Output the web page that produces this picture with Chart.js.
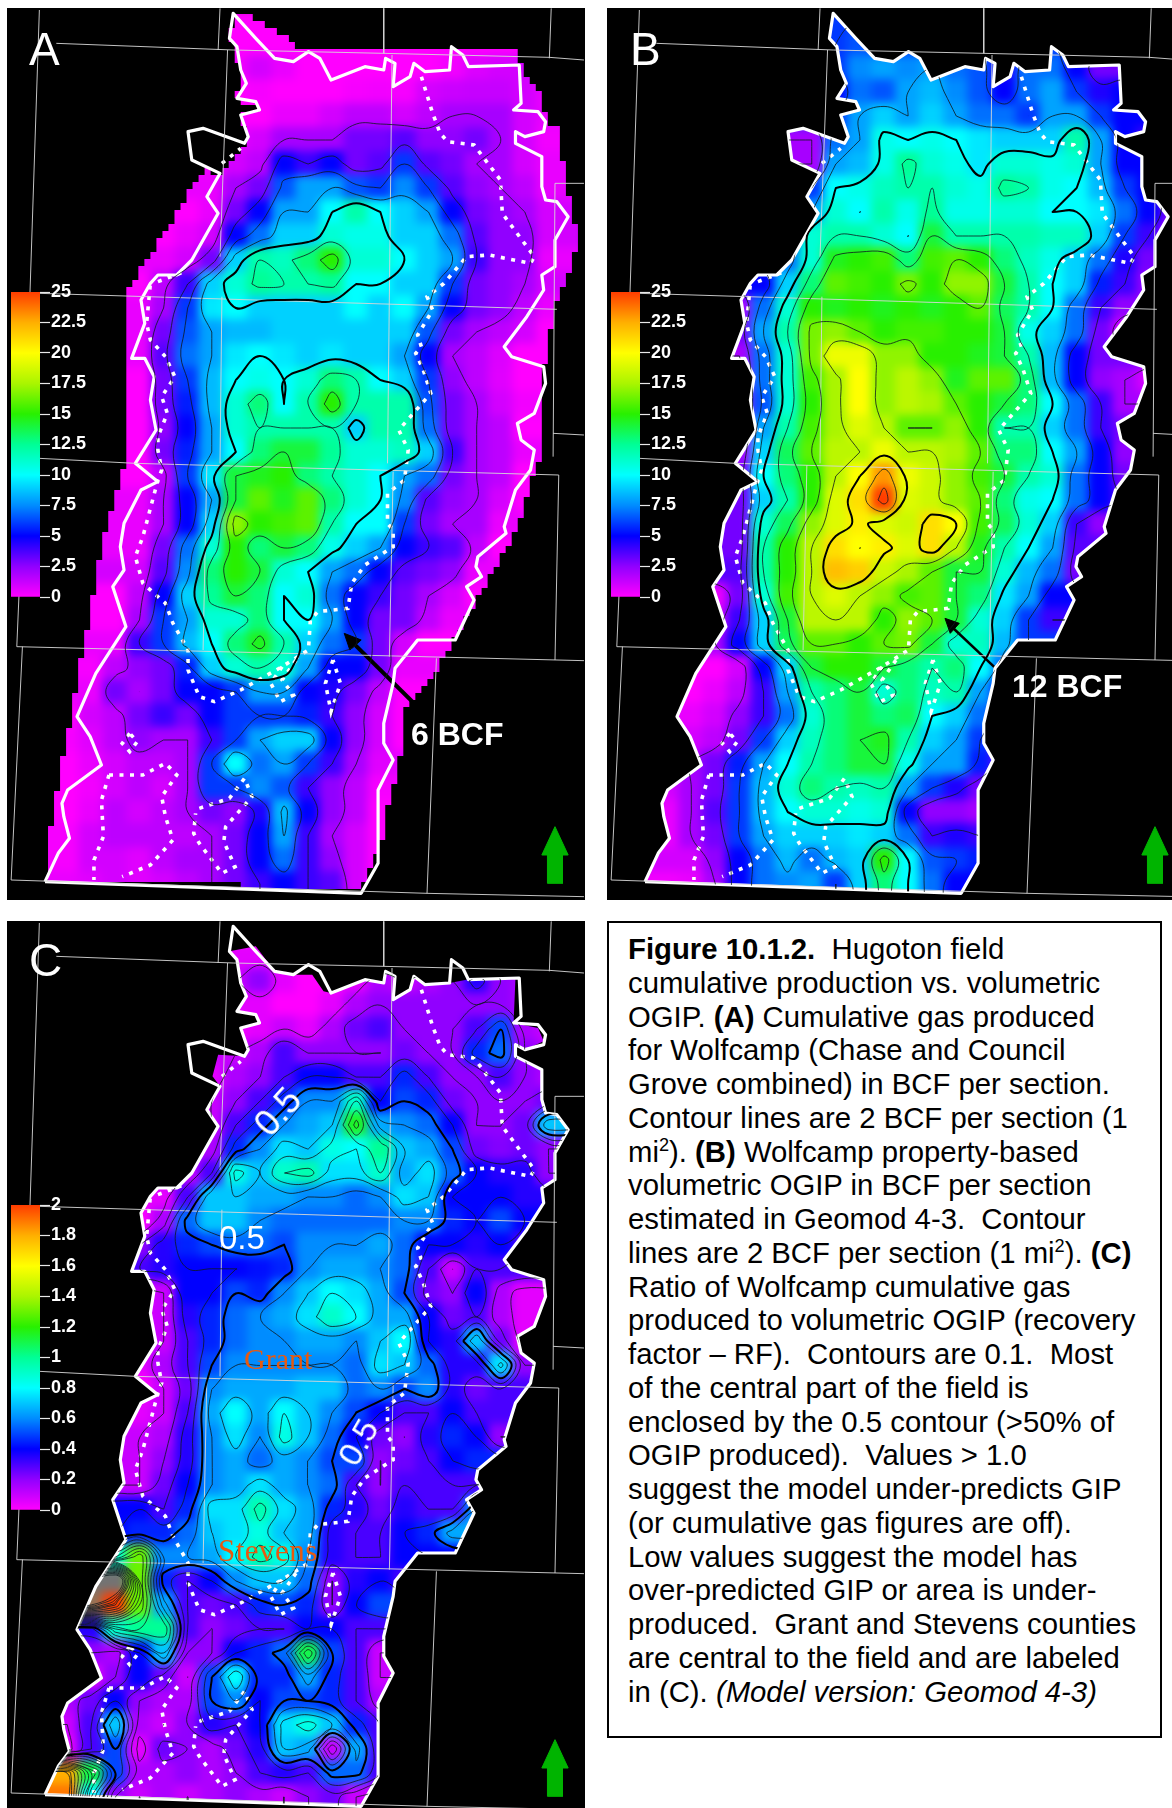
<!DOCTYPE html>
<html><head><meta charset="utf-8">
<script src="https://cdn.jsdelivr.net/npm/chart.js@4"></script>
<style>
html,body{margin:0;padding:0;background:#fff;width:1172px;height:1808px;overflow:hidden;font-family:"Liberation Sans",Arial,sans-serif}
.panel{position:absolute;background:#000;overflow:hidden}
.panel canvas{position:absolute}
.heat{filter:blur(5px)}
.t{position:absolute;white-space:pre;color:#fff;line-height:1}
.cap{position:absolute;left:607px;top:921px;width:551px;height:813px;border:2px solid #000;background:#fff}
.capt{position:absolute;left:628px;top:932px;font-size:29.3px;line-height:33.75px;white-space:pre;color:#000}
sup{font-size:.62em;line-height:0;vertical-align:super}
</style></head><body>
<div class="panel" id="pA" style="left:7px;top:8px;width:578px;height:892px"></div>
<div class="panel" id="pB" style="left:607px;top:8px;width:565px;height:892px"></div>
<div class="panel" id="pC" style="left:7px;top:921px;width:578px;height:887px"></div>
<div class="cap"></div>
<div class="capt"><b>Figure 10.1.2.</b>  Hugoton field
cumulative production vs. volumetric
OGIP. <b>(A)</b> Cumulative gas produced
for Wolfcamp (Chase and Council
Grove combined) in BCF per section.
Contour lines are 2 BCF per section (1
mi<sup>2</sup>). <b>(B)</b> Wolfcamp property-based
volumetric OGIP in BCF per section
estimated in Geomod 4-3.  Contour
lines are 2 BCF per section (1 mi<sup>2</sup>). <b>(C)</b>
Ratio of Wolfcamp cumulative gas
produced to volumetric OGIP (recovery
factor – RF).  Contours are 0.1.  Most
of the central part of the field is
enclosed by the 0.5 contour (&gt;50% of
OGIP produced).  Values &gt; 1.0
suggest the model under-predicts GIP
(or cumulative gas figures are off).
Low values suggest the model has
over-predicted GIP or area is under-
produced.  Grant and Stevens counties
are central to the field and are labeled
in (C). <i>(Model version: Geomod 4-3)</i></div>
<div class="t" style="left:29px;top:26px;font-size:46px;line-height:46px">A</div>
<div class="t" style="left:630px;top:26px;font-size:46px;line-height:46px">B</div>
<div class="t" style="left:29px;top:937px;font-size:46px;line-height:46px">C</div>
<div class="t" style="left:411px;top:718px;font-size:32px;font-weight:bold">6 BCF</div>
<div class="t" style="left:1012px;top:670px;font-size:32px;font-weight:bold">12 BCF</div>
<div class="t" style="left:253px;top:1094px;font-size:36px;transform:rotate(-48deg)">0.5</div>
<div class="t" style="left:219px;top:1221px;font-size:33px">0.5</div>
<div class="t" style="left:334px;top:1425px;font-size:34px;transform:rotate(-60deg)">0.5</div>
<div class="t" style="left:244px;top:1344px;font-size:30px;color:#e8590f;font-family:'Liberation Serif',serif">Grant</div>
<div class="t" style="left:218px;top:1535px;font-size:31px;letter-spacing:.5px;color:#e8590f;font-family:'Liberation Serif',serif">Stevens</div>
<script>
const o = null;
/* value grids: one row per 72 map units in y, one column per 64 map units in x */
const gridA = [
[o,o,o,o,o,o,o,o,o,0,0,0,0,0,0,0,0,0,0,0,0,0],
[o,o,o,o,o,o,o,o,o,0,0,0,0,0,0,0,0,0,0,0,0,0],
[o,o,o,o,o,o,o,o,o,.3,1,.5,0,0,0,0,0,0,.3,.8,1,1,1,.5],
[o,o,o,o,o,o,o,o,o,0,.2,0,0,0,.2,.3,.2,1,1.2,1.3,1.3,1,.5],
[o,o,o,o,o,o,o,o,o,0,0,.5,.5,1,1.5,1.5,1,1.5,2,2,2,1,.5],
[o,o,o,o,o,o,o,o,o,.5,1,2,2,2,3,3,3.5,2.5,2.5,3,2,1,.3],
[o,o,o,o,o,o,o,o,.3,1,1.5,5,4,5,3,3.5,6,3.5,3,2,2,1,.5],
[o,o,o,o,o,o,o,o,.5,2,3,6.5,8,8,6.5,6,7.5,6,3.5,2.5,2,1.5,.5],
[o,o,o,o,o,o,o,0,.5,3,5,8,8,10,12,10,9,8,5,3,2.5,2,1],
[o,o,o,o,o,o,0,.5,1,5,7,9,9,11,10.5,10.5,9,9,7,3.5,2.5,2.5,1],
[o,o,o,o,o,o,.5,1,3,9,12,11.5,13,15,11,11,10,9,8,4,2.5,2.5,.5],
[o,o,o,o,o,0,1.5,4,9,11,12.5,12,12,12.5,10,10,9,9,6,3,2.5,2,1],
[o,o,o,o,o,.5,2,6,9.5,10,9,9,9,9,10,9,10,8,5,3,2.5,1.5,.5],
[o,o,o,o,o,.5,3,6.5,8,8.5,8.5,9,9,9,9,9,9,6.5,3,2,1.5,1,0],
[o,o,o,o,o,.5,3.5,7,8,9.5,10,9.5,9,9.5,9,9,8,5,2,1.5,.8,0],
[o,o,o,o,o,0,3,6,8.5,10,10.5,10,11,13,12,10,9,6,2.5,1.5,.7,0],
[o,o,o,o,o,0,3,5.5,8.5,11,13,10,12,15,12,12,12,6.5,3,2,1,.3],
[o,o,o,o,o,0,2.5,5,8,11,12,12,12,12,9,12,12,7,3,2,1.5,0],
[o,o,o,o,o,0,3,5.5,8,10,13,14,14,12.5,11,11,11.5,9,4,2,1.5,.5],
[o,o,o,o,o,0,1.5,6,9.5,14,14.5,15,13,12,11,10,8,7,3,2,1.5,0],
[o,o,o,o,o,.5,2,5,8,14,16,14.5,16,13,11,10,7.5,3.5,2.5,2,1,0],
[o,o,o,o,o,.5,2,5,9,17,15,15.5,16,12,10,10,6,3,2,2,.5],
[o,o,o,o,o,.5,3,7,11,15,13,14,13,10.5,9,8,5,4,3.5,1.5,0],
[o,o,o,o,o,1,3.5,7.5,13,15,14,11,10,8,7,5,3.5,3,2.5,.5],
[o,o,o,o,0,1.5,5,9,12.5,14,13,10,11,7,5,4,3,2,1,0],
[o,o,o,o,0,2,6,8,11,11,13,10,10,8,5,3,3,1.5,.5],
[o,o,o,o,.5,4,6,8.5,10,13,14.5,12,9,7,6,3,1,0],
[o,o,o,.2,1.5,2.5,3,5.5,9,11,12,11,8,5,5,3,.5],
[o,o,o,.5,3,2,3,5,5,6,8,8,5,4.5,3,1.5,0],
[o,o,0,1,1.5,3,4,3,5,6,6,6,5.5,4,2.5,1,0],
[o,o,.2,.7,1.5,2.5,2,2,4,6,8,9,9,5,2.5,1,0],
[o,o,0,.5,1,1.5,1.5,2,6,10,7,8,6,4,2,.7],
[o,o,0,.3,1,1.5,1,2,6,6,7.5,6.5,4,2.5,1.5,.2],
[o,o,0,.5,1.5,1,1.5,2,3,2.5,4.5,8.5,5,2.5,1.5,0],
[o,o,.2,1,1.5,1.5,1.5,1.5,2,3,5,8,4,2,1,0],
[o,o,.2,1,1,.7,1.5,2,2,3,5,7,4,2.5,1,0],
[o,o,.5,.7,1,.7,1,1.5,2,3,4,5,4,3.5,1,0],
[]];
const gridB = [
[o,o,o,o,o,o,o,o,o,6],
[o,o,o,o,o,o,o,o,o,6,6.5,6],
[o,o,o,o,o,o,o,o,o,6,7.5,8,7.5,8,7,6.5,4.5,7,7,5,3,3,3],
[o,o,o,o,o,o,o,o,o,5,7,6.5,8,8.5,7.5,6.5,5,7,8,6,4.5,5,4],
[o,o,o,o,o,o,o,o,o,6,8,9,8,9,8,7,7,6,8,8,6,5,5],
[o,o,o,o,o,o,o,o,2,7,8,10.5,10,10.5,10,9.5,9,9,9,12,8,5,4],
[o,o,o,o,o,o,o,o,2,8,8.5,10.5,12.5,11,10.5,9.5,11,11,10.5,11,8,5,5,3],
[o,o,o,o,o,o,o,o,6,10,10.5,11.5,12,12,11,10.5,12.5,12,10.5,10,8.5,6,5,2.5],
[o,o,o,o,o,o,o,o,8,11,10,12,10.5,12.5,10.5,10.5,11,11,10,10,9.5,7,5,3],
[o,o,o,o,o,o,o,6,11,12,12,11,10,14,12,12,12,12,11.5,11.5,9,6,4,1.5],
[o,o,o,o,o,o,o,7,11,14.5,15,15.5,13,15.5,16,15,13,11.5,10.5,9,7,4.5,3],
[o,o,o,o,o,o,5,9,13,16,15.5,15,16.5,15,17,17,14,12,10,9,5.5,4,2.5],
[o,o,o,o,o,2,7,11,15,14.5,15,14.5,15,14.5,15,16,13.5,12,10,7,4,2.5],
[o,o,o,o,o,3,8,12,16.5,17,16,15,15.5,15.5,15,15,14,10.5,9,7,3,1],
[o,o,o,o,o,2,7,11,16.5,19.5,19.5,17,17,15,15,14.5,14,12,8.5,5,3],
[o,o,o,o,o,1,7,11,15.5,17.5,20,17,18,17,14.5,16,16,13,8.5,5,2.5,2,1],
[o,o,o,o,o,1,6.5,11,15,17.5,20,17,18,17.5,16,15,14,13,10,7,4,2],
[o,o,o,o,o,1,8,12,15.5,17.5,19,18,16,16,17,15,12,12,9,7,4,3],
[o,o,o,o,o,2,9,13.5,16,18,18,19.5,18,18,17.5,16,13,13,10,8,5,2.5],
[o,o,o,o,o,3,10,13,15,18,20,23,19.5,18.5,17,15.5,14,12,11,7,5,3],
[o,o,o,o,o,3,9,12,15,19,21,25,19,18.5,17,16,13,10.5,10,7,5,3.5],
[o,o,o,o,o,3,11,13.5,17,19,20.5,19,18.5,21,20,15.5,13.5,11,9,4,2.5],
[o,o,o,o,o,3,12,15,18,21,20,20.5,19,21,18,14.5,12,10,8,3.5],
[o,o,o,o,o,3.5,12,15,18,22,21.5,18.5,17.5,16,14,14,11,8.5,7,3],
[o,o,o,o,.5,3,11,15.5,18,19,18,17,15.5,16,14,13,9.5,8,5],
[o,o,o,o,1,4,9,14,18,18,18,15,17,16,14,11,9,6,4],
[o,o,o,o,2,5,9,13.5,16,16,15,16,16.5,14,11,11.5,8.5,6],
[o,o,o,0,0,1,5,9,14,15,15,14,13,12,13,10,7],
[o,o,o,0,.5,1.5,4,8,12,13,14,11,13,11.5,12,8,5],
[o,o,o,.5,1,2.5,4,7,11,13,14,13,13.5,10,9,7,5],
[o,o,o,1,1.5,3,6,9,11.5,13,14,14.5,12,9,8,6,4],
[o,o,o,2,3,5.5,8,10,12,13,14,14,10.5,8,8,5.5,3],
[o,o,1,2,3,6,8.5,11,13,12,11.5,12,8,6,4.5,3],
[o,o,.5,2,3.5,6,8.5,10,11,11,10.5,11,5,2.5,2.5,2],
[o,o,.5,2,3,6,8,9,9,9,9.5,9,7,4,4.5,4],
[o,o,o,1,2.5,5,7,8.5,7,8.5,9,15,10,6.5,6,5.5],
[o,o,.3,.5,2,5,7,7.5,8,6,9,13,10,7,5,5],
[]];
const gridC = [
[o,o,o,o,o,o,o,o,o,0,0,0,0,0],
[o,o,o,o,o,o,o,o,o,.05,.05,0,0,0,0,0,0,0],
[o,o,o,o,o,o,o,o,o,.1,.2,.05,0,0,.05,.15,.1,.15,.2,.35,.2,.15],
[o,o,o,o,o,o,o,o,o,.05,.05,0,0,.05,.15,.2,.2,.2,.2,.2,.2,.15],
[o,o,o,o,o,o,o,o,o,.02,.05,.1,.05,.15,.25,.3,.2,.2,.2,.3,.5,.15,.1],
[o,o,o,o,o,o,o,o,o,.1,.15,.3,.2,.2,.2,.2,.25,.2,.2,.45,.55,.2,.15],
[o,o,o,o,o,o,o,o,.05,.15,.2,.3,.4,.4,.3,.3,.45,.3,.2,.2,.3,.2,.15],
[o,o,o,o,o,o,o,o,.1,.2,.3,.45,.6,.6,.9,.4,.5,.45,.25,.2,.2,.2,.25],
[o,o,o,o,o,o,o,o,.1,.3,.45,.6,.65,.7,1.15,.65,.6,.55,.4,.2,.2,.25,.7],
[o,o,o,o,o,o,o,.05,.15,.45,.6,.75,.7,.85,.8,1,.7,.65,.5,.25,.22,.25,.2],
[o,o,o,o,o,o,o,.1,.3,.85,.7,.9,.95,.75,.75,.9,.65,.75,.55,.4,.35,.35,.2],
[o,o,o,o,o,o,.05,.3,.7,.7,.65,.65,.6,.6,.55,.6,.75,.7,.4,.4,.4,.35],
[o,o,o,o,o,0,.15,.55,.7,.7,.6,.55,.55,.55,.55,.55,.6,.6,.45,.4,.5,.4],
[o,o,o,o,o,.2,.35,.45,.5,.55,.55,.5,.6,.6,.6,.65,.55,.4,.4,.35,.4,.3],
[o,o,o,o,o,.3,.35,.4,.4,.4,.42,.45,.6,.65,.65,.6,.55,.3,.1,.3,.3],
[o,o,o,o,o,.05,.1,.4,.4,.5,.45,.6,.7,.8,.75,.65,.5,.25,.2,.4,.15,.05],
[o,o,o,o,o,.05,.1,.35,.45,.55,.6,.65,.75,.9,.8,.65,.65,.4,.25,.3,.15,.05],
[o,o,o,o,o,.05,.1,.3,.45,.55,.6,.6,.65,.65,.6,.7,.8,.4,.35,.7,.25,.05],
[o,o,o,o,o,.05,.15,.3,.5,.6,.6,.6,.6,.6,.55,.75,.7,.55,.35,.35,.75,.2],
[o,o,o,o,o,0,.1,.25,.6,.65,.65,.65,.7,.7,.55,.6,.5,.6,.35,.25,.3],
[o,o,o,o,o,.05,.1,.3,.65,.8,.65,.8,.7,.6,.5,.4,.3,.3,.4,.3],
[o,o,o,o,o,.1,.15,.35,.6,.75,.6,.85,.7,.55,.4,.25,.2,.35,.45,.4,.2],
[o,o,o,o,o,.1,.2,.35,.6,.65,.55,.65,.6,.5,.5,.2,.25,.3,.4,.45],
[o,o,o,o,o,.1,.25,.4,.6,.65,.75,.65,.6,.55,.3,.2,.3,.3,.3,.3],
[o,o,o,o,o,.4,.3,.45,.75,.75,.95,.75,.65,.45,.35,.25,.35,.3,.3,.6],
[o,o,o,o,.4,.45,.45,.55,.7,.75,.85,.7,.65,.35,.3,.3,.4,.45,.65],
[o,o,o,o,.9,1.3,.6,.6,.65,.8,.95,.85,.6,.35,.3,.3,.4],
[o,o,o,2.6,2.9,1.3,.45,.3,.4,.6,.7,.7,.55,.2,.35,.4,.3],
[o,o,o,2.4,2,1.3,.65,.3,.25,.3,.45,.5,.45,.2,.4,.5],
[o,o,o,.35,.9,1,1,.3,.2,.25,.3,.3,.4,.4,.3,.3],
[o,o,o,.2,.15,.4,.7,.2,.2,.4,.45,.55,1.1,.5,.3,.1],
[o,o,o,.05,.2,.4,.25,.1,.5,.8,.45,.45,.65,.45,.3,.1],
[o,o,.15,.25,.4,.2,.15,.15,.5,.6,.4,.5,.5,.45,.3,.15],
[o,o,.1,.3,.7,.15,.1,.2,.35,.3,.4,.75,.85,.7,.45,.3],
[o,o,.05,.3,.5,.05,.25,.2,.15,.25,.35,.7,.65,.1,.65,.3],
[o,o,1.8,1.1,.5,.15,.15,.2,.15,.2,.3,.35,.3,.55,.55,.3],
[o,o,1.9,.8,.2,.1,.15,.1,.15,.2,.15,.1,.2,.25,.1,.05],
[]];
const barTicksAB = [0,2.5,5,7.5,10,12.5,15,17.5,20,22.5,25];
const barTicksC = [0,.2,.4,.6,.8,1,1.2,1.4,1.6,1.8,2];
const levelsAB = [2,4,6,8,10,12,14,16,18,20,22,24];
const heavyAB = [10,20];
const levelsC = [.1,.2,.3,.4,.5,.6,.7,.8,.9,1,1.1,1.2,1.3,1.4,1.5,1.6,1.7,1.8,1.9,2,2.1,2.2,2.3,2.4];
const heavyC = [.5];
/* map geometry */
const fieldOutline = [[120,2645],[155,2560],[185,2515],[170,2450],[165,2410],[180,2370],[270,2295],[240,2210],[205,2150],[255,2020],[335,1880],[300,1760],[330,1710],[320,1640],[330,1570],[375,1470],[420,1445],[360,1390],[415,1290],[400,1200],[410,1130],[385,1075],[350,1075],[385,970],[375,900],[400,850],[420,825],[470,825],[510,780],[580,640],[550,590],[585,520],[510,480],[500,395],[540,385],[650,430],[660,410],[640,345],[690,330],[680,305],[630,295],[655,250],[640,210],[630,140],[610,115],[620,40],[680,115],[730,175],[780,185],[820,155],[850,175],[880,240],[970,200],[1020,210],[1025,175],[1050,190],[1045,260],[1090,230],[1100,190],[1130,215],[1195,210],[1200,140],[1230,165],[1245,200],[1380,195],[1385,310],[1365,330],[1430,335],[1450,365],[1445,395],[1395,410],[1370,395],[1370,430],[1440,470],[1440,560],[1450,600],[1480,605],[1510,650],[1475,720],[1475,800],[1440,825],[1445,870],[1400,950],[1340,1040],[1360,1070],[1445,1100],[1450,1150],[1420,1240],[1375,1270],[1385,1320],[1420,1350],[1410,1410],[1370,1470],[1340,1580],[1345,1600],[1270,1670],[1265,1700],[1280,1730],[1240,1760],[1260,1800],[1210,1920],[1110,1920],[1050,2005],[1045,2050],[1020,2170],[1020,2230],[1045,2280],[1005,2370],[1005,2590],[960,2680],[120,2645]];
const extentA = [[620,40],[660,50],[720,85],[780,120],[780,155],[1190,150],[1380,150],[1390,225],[1440,290],[1450,360],[1480,390],[1495,490],[1530,680],[1530,760],[1500,860],[1480,900],[1470,960],[1445,1100],[1440,1350],[1400,1500],[1370,1590],[1310,1720],[1250,1840],[1190,1950],[1140,2050],[1080,2130],[1060,2310],[1030,2420],[1015,2530],[960,2670],[120,2635],[125,2560],[160,2310],[200,2080],[270,1640],[340,1350],[340,870],[400,760],[490,600],[540,510],[585,520],[640,440],[660,410],[640,345],[690,330],[630,295],[640,200],[610,115]];
const extentC = [[120,2645],[155,2560],[185,2515],[170,2450],[165,2410],[180,2370],[270,2295],[240,2210],[205,2150],[255,2020],[335,1880],[300,1760],[330,1710],[320,1640],[330,1570],[375,1470],[420,1445],[360,1390],[415,1290],[400,1200],[410,1130],[385,1075],[350,1075],[385,970],[375,900],[400,850],[420,825],[470,825],[510,780],[580,640],[550,590],[585,520],[565,490],[580,425],[650,430],[660,410],[640,345],[690,330],[680,305],[630,295],[655,250],[640,210],[630,140],[610,115],[680,100],[730,175],[780,185],[830,185],[860,235],[880,240],[970,200],[1020,210],[1025,175],[1050,190],[1045,260],[1090,230],[1100,190],[1130,215],[1195,210],[1240,200],[1370,195],[1365,330],[1430,345],[1445,385],[1395,410],[1370,395],[1370,430],[1440,470],[1440,560],[1450,600],[1480,605],[1510,650],[1475,720],[1475,800],[1440,825],[1445,870],[1400,950],[1340,1040],[1360,1070],[1445,1100],[1450,1150],[1420,1240],[1375,1270],[1385,1320],[1420,1350],[1410,1410],[1370,1470],[1340,1580],[1345,1600],[1270,1670],[1265,1700],[1280,1730],[1240,1760],[1260,1800],[1210,1920],[1110,1920],[1050,2005],[1045,2050],[1020,2170],[1020,2230],[1045,2280],[1005,2370],[1005,2590],[960,2680]];
const dottedPaths = [
[[1120,230],[1150,340],[1170,400],[1190,425],[1260,435],[1330,540],[1335,640],[1420,770],[1410,790],[1300,765],[1240,770],[1180,850],[1135,890],[1150,930],[1110,1005],[1120,1040],[1105,1060],[1125,1110],[1145,1180],[1060,1290],[1085,1350],[1075,1440],[1030,1480],[1030,1570],[1045,1590],[1045,1640],[970,1695],[935,1750],[925,1825],[845,1835],[825,1860],[820,1950],[750,2000],[640,2070],[570,2105],[530,2090],[500,2010],[500,1950],[460,1870],[440,1810],[380,1750],[360,1670],[380,1610],[420,1440],[430,1410],[420,1350],[420,1310],[445,1240],[430,1190],[465,1130],[440,1070],[400,1020],[390,970],[400,850]],
[[420,845],[490,815]],
[[590,490],[640,445]],
[[885,1980],[865,2050],[880,2135],[905,2050],[885,1980]],
[[345,2200],[325,2230],[345,2255],[365,2225],[345,2200]],
[[290,2325],[380,2325],[440,2290],[470,2325],[430,2390],[440,2450],[460,2520],[400,2595],[325,2630]],
[[290,2325],[270,2400],[275,2510],[250,2580],[250,2640]],
[[530,2425],[610,2395],[650,2335],[670,2390],[600,2480],[595,2525],[625,2600],[590,2620],[530,2530],[515,2500],[520,2440]],
[[750,2000],[720,2050],[745,2105],[780,2085],[750,2040],[790,1975]]];
const gridPaths = [
[[105,880],[1480,928]],[[150,130],[620,150],[1020,160],[1460,172],[1552,180]],
[[105,30],[80,880]],[[585,25],[580,150]],[[605,150],[585,770]],[[1020,25],[1020,160]],[[1042,165],[1030,1390]],[[1465,25],[1460,175]],
[[1475,550],[1552,550]],[[1475,550],[1470,1370]],[[1470,1300],[1552,1305]],[[590,890],[585,1390]],
[[105,1375],[360,1390],[1485,1425]],[[1485,1425],[1475,1980]],[[550,1395],[540,1950]],[[1045,1415],[1035,1970]],
[[85,880],[45,1940]],[[45,1940],[1552,1982]],[[60,1940],[30,2640],[1135,2680],[1552,2690]],[[1160,1975],[1135,2680]]];
const northArrow = [[1475,2480],[1510,2565],[1495,2565],[1495,2650],[1455,2650],[1455,2565],[1440,2565],[1475,2480]];
const arrowLineA = [[1105,2115],[935,1925]];
const arrowHeadA = [[915,1900],[960,1920],[930,1950],[915,1900]];
const arrowLineB = [[1052,2005],[930,1875]];
const arrowHeadB = [[917,1855],[955,1870],[931,1900],[917,1855]];

const colorStops = [[0,[255,0,255]],[2.5,[145,0,255]],[5,[0,0,255]],[7.5,[0,140,255]],[10,[0,255,255]],[12.5,[0,255,150]],[15,[40,240,0]],[17.5,[170,245,0]],[20,[255,255,0]],[22.5,[255,175,0]],[25,[255,60,0]],[27,[255,110,0]],[31,[115,115,115]]];
function colorAt(v){
  for(let i=1;i<colorStops.length;i++){
    if(v<=colorStops[i][0]){
      const a=colorStops[i-1],b=colorStops[i],t=(v-a[0])/(b[0]-a[0]);
      return 'rgb('+a[1].map((c,k)=>Math.round(c+(b[1][k]-c)*t)).join(',')+')';
    }
  }
  return 'rgb(115,115,115)';
}
const UX=2.657, UY=3, X0=19, Y0=24, DX=64, DY=72, COLS=24, PAD=30;
const colX=i=>X0+DX*(i+.5), rowY=j=>Y0+DY*(j+.5);
/* the coloured patch of panel A has a pixel-stepped edge */
function stepped(poly,sx,sy){
  const out=[];
  const push=(x,y)=>{const l=out[out.length-1];if(!l||l[0]!==x||l[1]!==y)out.push([x,y]);};
  poly.forEach((p,i)=>{
    const q=poly[(i+1)%poly.length],n=Math.ceil(Math.hypot(q[0]-p[0],q[1]-p[1])/6)||1;
    for(let k=0;k<n;k++){
      const X=Math.round((p[0]+(q[0]-p[0])*k/n)/sx)*sx,Y=Math.round((p[1]+(q[1]-p[1])*k/n)/sy)*sy,l=out[out.length-1];
      if(l&&l[0]!==X&&l[1]!==Y)push(X,l[1]);
      push(X,Y);
    }
  });
  return out;
}
function padGrid(g){
  const R=g.length, out=[];
  for(let j=0;j<R;j++){
    const r=[];
    for(let i=0;i<COLS;i++){
      let v=g[j][i];
      if(v==null){ for(let d=1;d<COLS&&v==null;d++){ const a=g[j][i-d],b=g[j][i+d]; v=a!=null?a:(b!=null?b:null);} }
      r.push(v);
    }
    out.push(r);
  }
  for(let j=0;j<R;j++) if(out[j][0]==null){
    for(let d=1;d<R;d++){ const s=out[j-d]&&out[j-d][0]!=null?out[j-d]:(out[j+d]&&out[j+d][0]!=null?out[j+d]:null); if(s){out[j]=s.slice();break;} }
  }
  return out;
}
function contour(g,L){
  const R=g.length,C=COLS,pts={},adj={};
  const add=(a,b)=>{(adj[a]=adj[a]||[]).push(b);(adj[b]=adj[b]||[]).push(a);};
  const hk=(i,j)=>{const k='h'+i+'_'+j; if(!pts[k]){const a=g[j][i],b=g[j][i+1];pts[k]={x:colX(i)+DX*(L-a)/(b-a),y:rowY(j)};} return k;};
  const vk=(i,j)=>{const k='v'+i+'_'+j; if(!pts[k]){const a=g[j][i],b=g[j+1][i];pts[k]={x:colX(i),y:rowY(j)+DY*(L-a)/(b-a)};} return k;};
  for(let j=0;j<R-1;j++)for(let i=0;i<C-1;i++){
    const a=g[j][i]>L,b=g[j][i+1]>L,c=g[j+1][i+1]>L,d=g[j+1][i]>L;
    const s=(a?8:0)+(b?4:0)+(c?2:0)+(d?1:0);
    if(s===0||s===15)continue;
    const T=()=>hk(i,j),B=()=>hk(i,j+1),Le=()=>vk(i,j),Ri=()=>vk(i+1,j);
    switch(s){
      case 1:case 14:add(Le(),B());break;
      case 2:case 13:add(B(),Ri());break;
      case 3:case 12:add(Le(),Ri());break;
      case 4:case 11:add(T(),Ri());break;
      case 6:case 9:add(T(),B());break;
      case 7:case 8:add(Le(),T());break;
      case 5:add(Le(),T());add(B(),Ri());break;
      case 10:add(T(),Ri());add(Le(),B());break;
    }
  }
  const seen={},lines=[];
  const walk=st=>{const line=[pts[st]];seen[st]=1;let cur=st,go=true;
    while(go){go=false;for(const n of adj[cur]){if(!seen[n]){seen[n]=1;line.push(pts[n]);cur=n;go=true;break;}}}
    if(adj[cur].includes(st)&&line.length>2)line.push(pts[st]);
    return line;};
  Object.keys(adj).filter(k=>adj[k].length===1).forEach(k=>{if(!seen[k])lines.push(walk(k));});
  Object.keys(adj).forEach(k=>{if(!seen[k])lines.push(walk(k));});
  return lines;
}
const toXY=a=>a.map(p=>({x:p[0],y:p[1]}));
const plain=(data,c,w,extra)=>Object.assign({data:toXY(data),borderColor:c,backgroundColor:c,borderWidth:w,pointRadius:0,tension:0,fill:false},extra||{});
function tracePoly(ctx,chart,poly){
  const sx=chart.scales.x,sy=chart.scales.y;
  poly.forEach((p,i)=>{const X=sx.getPixelForValue(p[0]),Y=sy.getPixelForValue(p[1]);i?ctx.lineTo(X,Y):ctx.moveTo(X,Y);});
  ctx.closePath();
}
function mk(parent,w,h,left,top,cls){
  const c=document.createElement('canvas');c.width=w;c.height=h;
  c.style.cssText='left:'+left+'px;top:'+top+'px;width:'+w+'px;height:'+h+'px';
  if(cls)c.className=cls;parent.appendChild(c);return c;
}
function panel(id,grid,scaleMax,levels,heavy,extent,arrowLine,arrowHead,arrowW,ticks){
  const el=document.getElementById(id),W=el.offsetWidth,H=el.offsetHeight,g=padGrid(grid);
  /* heat layer */
  const cells=[],cols=[];
  g.forEach((r,j)=>r.forEach((v,i)=>{cells.push({x:colX(i),y:rowY(j)});cols.push(colorAt(v*25/scaleMax));}));
  new Chart(mk(el,W+2*PAD,H+2*PAD,-PAD,-PAD,'heat'),{type:'scatter',
    data:{datasets:[{data:cells,pointStyle:'rect',pointBackgroundColor:cols,pointBorderWidth:0,
      pointRadius:c=>{const s=c.chart.scales.x;return (s.getPixelForValue(X0+DX)-s.getPixelForValue(X0))*.5*1.414+1.2;}}]},
    options:{responsive:false,animation:false,events:[],layout:{padding:0},plugins:{legend:{display:false},tooltip:{enabled:false}},
      scales:{x:{type:'linear',display:false,min:X0-PAD*UX,max:X0+(W+PAD)*UX},y:{type:'linear',display:false,reverse:true,min:Y0-PAD*UY,max:Y0+(H+PAD)*UY}}}});
  /* lines layer */
  const ds=[];
  levels.forEach(L=>{
    const isH=heavy.some(h=>Math.abs(h-L)<1e-6);
    contour(g,L+1e-3).forEach(line=>ds.push({data:line,isContour:true,borderColor:isH?'#000':'rgba(15,25,30,.8)',borderWidth:isH?2:1,pointRadius:0,tension:.4,fill:false}));
  });
  gridPaths.forEach(p=>ds.push(plain(p,'rgba(215,215,215,.9)',1)));
  ds.push(plain(fieldOutline,'#fff',3.2,{borderJoinStyle:'round'}));
  dottedPaths.forEach(p=>ds.push(plain(p,'#fff',3.6,{borderDash:[4,6.5]})));
  ds.push(plain(northArrow,'#00b400',1,{fill:'shape'}));
  if(arrowLine){ds.push(plain(arrowLine,'#000',arrowW));ds.push(plain(arrowHead,'#000',1,{fill:'shape'}));}
  const overlay={id:'overlay',
    beforeDatasetsDraw(chart){const c=chart.ctx,a=chart.chartArea;c.save();c.fillStyle='#000';c.beginPath();c.rect(a.left,a.top,a.width,a.height);tracePoly(c,chart,extent);c.fill('evenodd');c.restore();},
    beforeDatasetDraw(chart,args){if(chart.data.datasets[args.index].isContour){const c=chart.ctx;c.save();c.beginPath();tracePoly(c,chart,extent);c.clip();}},
    afterDatasetDraw(chart,args){if(chart.data.datasets[args.index].isContour)chart.ctx.restore();}};
  new Chart(mk(el,W,H,0,0),{type:'line',data:{datasets:ds},plugins:[overlay],
    options:{responsive:false,animation:false,events:[],layout:{padding:0},parsing:false,normalized:false,plugins:{legend:{display:false},tooltip:{enabled:false}},
      scales:{x:{type:'linear',display:false,min:X0,max:X0+W*UX},y:{type:'linear',display:false,reverse:true,min:Y0,max:Y0+H*UY}}}});
  /* colour bar */
  const gradStops=colorStops.filter(s=>s[0]<=25);
  new Chart(mk(el,90,329,4,272),{type:'bar',
    data:{labels:[''],datasets:[{data:[scaleMax],barPercentage:1,categoryPercentage:1,borderWidth:0,
      backgroundColor:c=>{const a=c.chart.chartArea;if(!a)return '#000';const gr=c.chart.ctx.createLinearGradient(0,a.bottom,0,a.top);gradStops.forEach(s=>gr.addColorStop(s[0]/25,colorAt(s[0])));return gr;}}]},
    options:{responsive:false,animation:false,events:[],layout:{padding:{top:12,bottom:12},autoPadding:false},plugins:{legend:{display:false},tooltip:{enabled:false}},
      scales:{x:{display:false},y:{position:'right',min:0,max:scaleMax,
        afterBuildTicks:ax=>{ax.ticks=ticks.map(v=>({value:v}));},
        afterFit:ax=>{ax.width=61;},
        border:{display:false},
        grid:{drawOnChartArea:false,drawTicks:true,tickLength:10,tickColor:'#e8e8e8',tickWidth:1.2},
        ticks:{color:'#fff',padding:1,autoSkip:false,maxRotation:0,font:{family:'Liberation Sans',size:18,weight:'bold'},callback:v=>String(v),align:'center'}}}}});
}
panel('pA',gridA,25,levelsAB,heavyAB,stepped(extentA,16,21),arrowLineA,arrowHeadA,4,barTicksAB);
panel('pB',gridB,25,levelsAB,heavyAB,fieldOutline,arrowLineB,arrowHeadB,2.5,barTicksAB);
panel('pC',gridC,2,levelsC,heavyC,extentC,null,null,0,barTicksC);
</script>
</body></html>
